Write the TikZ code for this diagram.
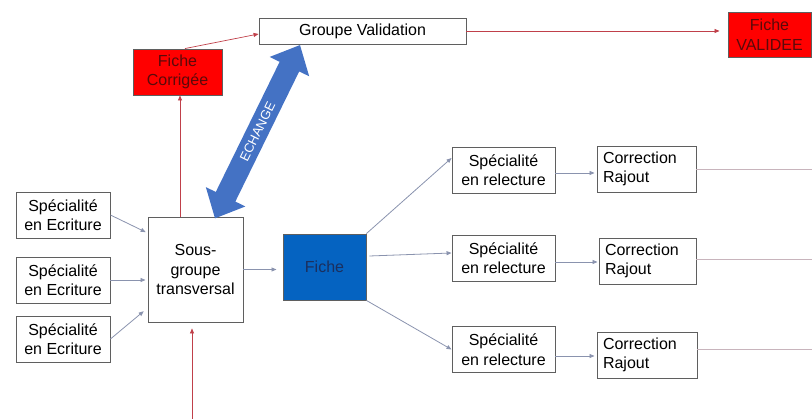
\documentclass[tikz,border=0pt]{standalone}
\usepackage{fontspec}
\setmainfont{Liberation Sans}
\usetikzlibrary{shapes.arrows,arrows.meta}

\definecolor{boxline}{HTML}{5F5F5F}
\definecolor{flowgray}{HTML}{8A93AE}
\definecolor{flowred}{HTML}{C0404A}
\definecolor{tailline}{HTML}{C8B4BC}
\definecolor{alertred}{HTML}{FF0000}
\definecolor{alerttext}{HTML}{5A0A0A}
\definecolor{fichefill}{HTML}{0563C1}
\definecolor{fichetext}{HTML}{1B2F5E}
\definecolor{exchange}{HTML}{4472C4}

\newcommand\bodysize{\fontsize{16}{19.5}\selectfont}

\tikzset{
  box/.style={draw=boxline, line width=0.9pt, fill=white, align=center,
    inner sep=2pt, font=\bodysize},
  writebox/.style={box, minimum width=94pt, minimum height=46pt},
  readbox/.style={box, minimum width=103pt, minimum height=46pt},
  fixbox/.style={box, align=left, text width=87pt, inner xsep=6pt, minimum height=46pt},
  alertbox/.style={box, fill=alertred, text=alerttext},
  tip/.style={-{Triangle[length=5pt,width=4pt]}},
  grayflow/.style={tip, draw=flowgray, line width=0.8pt},
  redflow/.style={tip, draw=flowred, line width=0.7pt},
  tail/.style={draw=tailline, line width=0.9pt},
}

\begin{document}
\begin{tikzpicture}[x=1pt, y=-1pt]
\useasboundingbox (0,0) rectangle (812,419);

% top row: validation chain
\node[alertbox, minimum width=89pt, minimum height=46pt] (corr) at (177.5,72) {Fiche\\Corrigée};
\node[box, minimum width=207pt, minimum height=26pt] (gv) at (362.5,31) {Groupe Validation};
\node[alertbox, minimum width=83pt, minimum height=45pt] (val) at (769.5,34.5) {Fiche\\VALIDEE};

% writing specialists and the transversal subgroup
\node[writebox] (e1) at (63,215) {Spécialité\\en Ecriture};
\node[writebox] (e2) at (63,280) {Spécialité\\en Ecriture};
\node[writebox] (e3) at (63,339) {Spécialité\\en Ecriture};
\node[box, minimum width=95pt, minimum height=105pt] (sg) at (195.5,269.5) {Sous-\\groupe\\transversal};

% the sheet
\node[box, fill=fichefill, text=fichetext, minimum width=83pt, minimum height=66pt] (fiche) at (324.5,267) {Fiche};

% proofreading branches
\node[readbox] (r1) at (503.5,170) {Spécialité\\en relecture};
\node[readbox] (r2) at (503.5,258) {Spécialité\\en relecture};
\node[readbox] (r3) at (503.5,349.5) {Spécialité\\en relecture};
\node[fixbox] (c1) at (646.5,169) {Correction\\Rajout};
\node[fixbox, text width=85pt] (c2) at (647.5,261) {Correction\\Rajout};
\node[fixbox, text width=88pt] (c3) at (647,355) {Correction\\Rajout};

% red flow
\draw[redflow] ([xshift=7.5pt]corr.north) -- ([yshift=-3pt]gv.west);
\draw[redflow] ([xshift=-15.5pt]sg.north) -- ([xshift=2.5pt]corr.south);
\coordinate (feed) at (192,419);
\draw[redflow, shorten >=6pt] (feed) -- (feed |- sg.south);
\draw[redflow, shorten >=8pt] (gv.east) -- (gv.east -| val.west);

% gray flow
\draw[grayflow, shorten >=2pt] (e1.east) -- ([yshift=36.5pt]sg.west);
\draw[grayflow, shorten >=2pt] (e2.east) -- (e2.east -| sg.west);
\draw[grayflow, shorten >=5pt] (e3.east) -- ([yshift=-38.5pt]sg.west);
\draw[grayflow, shorten >=6pt] (sg.east) -- (sg.east -| fiche.west);
\draw[grayflow] (fiche.north east) -- ([yshift=12pt]r1.west);
\draw[grayflow] ([xshift=3pt,yshift=11pt]fiche.east) -- ([yshift=5pt]r2.west);
\draw[grayflow] (fiche.south east) -- (r3.west);
\draw[grayflow, shorten >=2pt] ([yshift=-3pt]r1.east) -- ([yshift=-3pt]r1.east -| c1.west);
\draw[grayflow, shorten >=1pt] ([yshift=-4pt]r2.east) -- ([yshift=-4pt]r2.east -| c2.west);
\draw[grayflow, shorten >=2pt] ([yshift=-6.5pt]r3.east) -- ([yshift=-6.5pt]r3.east -| c3.west);

% outgoing lines
\coordinate (out1) at (812,169);
\coordinate (out2) at (812,259);
\coordinate (out3) at (812,349);
\draw[tail] (c1.east |- out1) -- (out1);
\draw[tail] (c2.east |- out2) -- (out2);
\draw[tail] (c3.east |- out3) -- (out3);

% exchange between the subgroup and the validation group
\node[double arrow, fill=exchange, rotate=63.87, minimum height=193pt,
      minimum width=44pt, double arrow head extend=11pt, double arrow tip angle=85,
      inner sep=6pt, text=white, font=\fontsize{13}{15}\selectfont] (xchg) at (257.5,131.7) {ECHANGE};
\end{tikzpicture}
\end{document}
